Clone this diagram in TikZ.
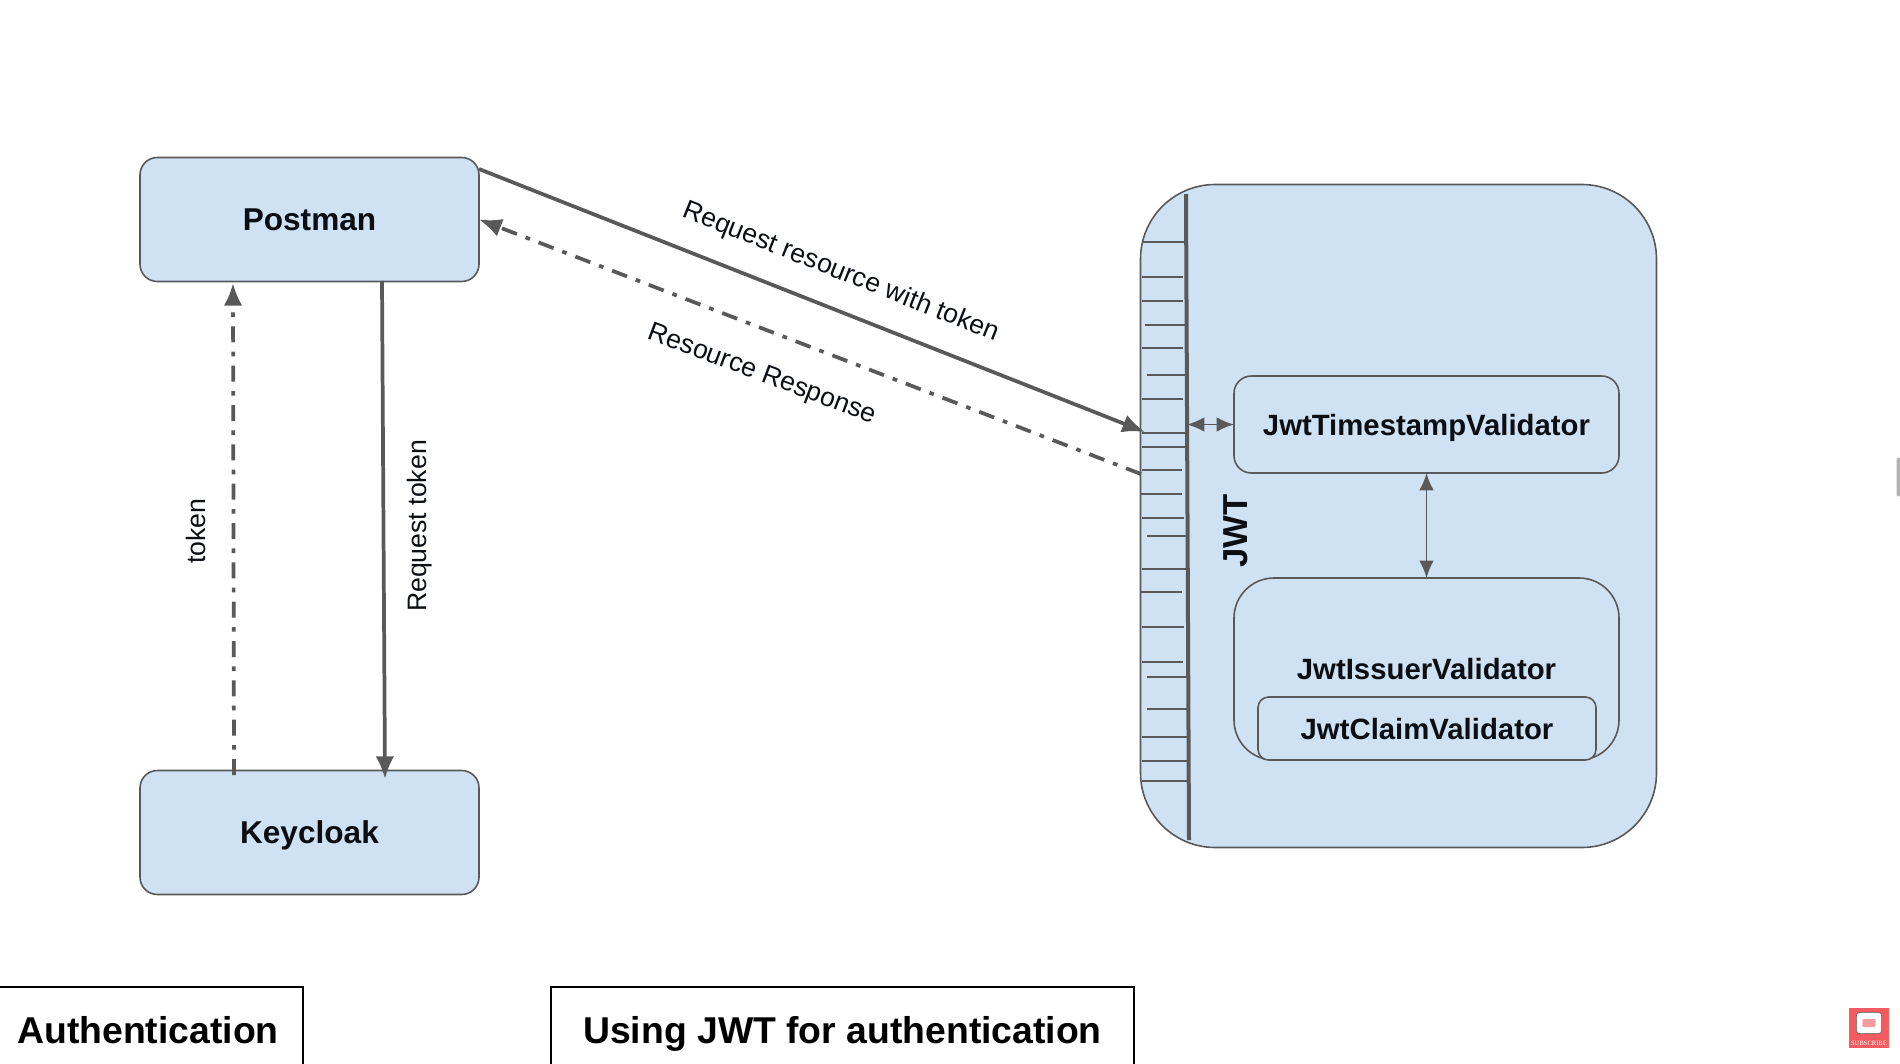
\documentclass[tikz,border=0pt]{standalone}
\usepackage{fontspec}
\setmainfont{Liberation Sans}
\newfontfamily\badgefont{Liberation Serif}
\usetikzlibrary{arrows.meta}
\definecolor{boxblue}{HTML}{CFE2F3}
\definecolor{linegray}{HTML}{595959}
\definecolor{inkdark}{HTML}{0B0F14}
\definecolor{badgered}{HTML}{F25B60}
\tikzset{
  bluebox/.style={draw=linegray, fill=boxblue, line width=1.2pt, inner sep=0pt, outer sep=0pt, text=inkdark, text depth=0pt},
  titlefont/.style={font=\fontsize{23.7}{28}\selectfont\bfseries, text height=17pt},
  classfont/.style={font=\fontsize{22}{26}\selectfont\bfseries, text height=15.8pt},
  arrowlabel/.style={font=\fontsize{20}{24}\selectfont, text=inkdark, inner sep=0pt},
  tabbox/.style={draw=black, line width=1.5pt, inner sep=0pt, outer sep=0pt, minimum height=64.5pt, font=\fontsize{28}{33}\selectfont\bfseries, text=black, text height=20pt, text depth=0pt},
  bigarrow/.style={draw=linegray, line width=2.8pt, -{Latex[length=17pt,width=14pt]}},
  dotarrow/.style={bigarrow, dash pattern=on 12pt off 7pt on 3.5pt off 7pt},
  smallarrow/.style={draw=linegray, line width=1.4pt, {Latex[length=13pt,width=11pt]}-{Latex[length=13pt,width=11pt]}},
}
\begin{document}
\begin{tikzpicture}[x=0.75pt, y=-0.75pt]
   \useasboundingbox (0,0) rectangle (1900,1064);
   % clients on the left
   \node[bluebox, titlefont, rounded corners=13pt, minimum width=254.25pt, minimum height=93pt] (postman) at (309.5,219.5) {Postman};
   \node[bluebox, titlefont, rounded corners=13pt, minimum width=254.25pt, minimum height=93pt] (keycloak) at (309.5,832.5) {Keycloak};
   % resource server
   \node[bluebox, rounded corners=56pt, minimum width=387pt, minimum height=497.25pt] (jwtbox) at (1398.5,516) {};
   \coordinate (filtertop) at (1186,194);
   \coordinate (filterbot) at (1189,840);
   \foreach \ya/\xa/\xb in {242/1142/1186, 277/1142/1183, 301/1142/1183, 325/1145/1186, 348/1142/1183,
     375/1147/1186, 399/1142/1183, 433/1142/1186, 447/1142/1186, 470/1142/1182, 494/1140/1182,
     518/1142/1184, 536/1147/1187, 569/1142/1187, 592/1140/1182, 627/1142/1184, 662/1142/1183,
     677/1147/1187, 709/1147/1187, 737/1142/1187, 761/1142/1188, 781/1142/1188}
     \draw[draw=linegray, line width=1pt] (\xa,\ya) -- (\xb,\ya);
   \draw[draw=linegray, line width=3pt] (filtertop) -- (filterbot);
   \node[font=\fontsize{26}{30}\selectfont\bfseries, text=inkdark, rotate=90, inner sep=0pt] (jwtlabel) at (1236,531) {JWT};
   \node[bluebox, classfont, rounded corners=13pt, minimum width=288.75pt, minimum height=72.75pt] (timestamp) at (1426.5,424.5) {JwtTimestampValidator};
   \node[bluebox, classfont, rounded corners=30pt, minimum width=288.75pt, minimum height=136.5pt] (issuer) at (1426.5,669) {JwtIssuerValidator};
   \node[bluebox, classfont, rounded corners=8pt, minimum width=253.5pt, minimum height=47.25pt] (claim) at (1427,728.5) {JwtClaimValidator};
   % connectors
   \coordinate (tokenin) at (382,281);
   \coordinate (tokenout) at (385,779);
   \coordinate (tokenback) at (234,775);
   \coordinate (tokenarrive) at (233,283);
   \coordinate (reqstart) at (479,169);
   \coordinate (reqend) at (1145,432);
   \coordinate (respstart) at (1141,474);
   \coordinate (filterport) at (1187,424.5);
   \draw[bigarrow] (tokenin) -- (tokenout);
   \draw[dotarrow] (tokenback) -- (tokenarrive);
   \draw[bigarrow] (reqstart) -- (reqend);
   \draw[dotarrow] (respstart) -- (postman.east);
   \draw[smallarrow] (filterport) -- (timestamp.west);
   \draw[smallarrow] (timestamp.south) -- (issuer.north);
   % labels
   \node[arrowlabel, rotate=-21.7] (reqlabel) at (841,272.5) {Request resource with token};
   \node[arrowlabel, rotate=-20.5] (resplabel) at (762,375) {Resource Response};
   \node[arrowlabel, rotate=90] (tokenreqlabel) at (420,526) {Request token};
   \node[arrowlabel, rotate=90] (tokenlabel) at (196,531) {token};
   % tabs at the bottom
   \node[tabbox, minimum width=232pt] (authtab) at (148,1030) {Authentication};
   \node[tabbox, minimum width=437.25pt] (usingtab) at (842.5,1030) {Using JWT for authentication};
   % subscribe badge
   \node[fill=badgered, minimum width=30pt, minimum height=29.5pt, inner sep=0pt] (badge) at (1869,1028) {};
   \node[fill=white, draw=linegray, line width=0.4pt, rounded corners=2.5pt, minimum width=19pt, minimum height=16pt, inner sep=0pt] (badgeicon) at (1869,1023) {};
   \node[fill=badgered!60, rounded corners=1pt, minimum width=10pt, minimum height=6pt, inner sep=0pt] (badgeplay) at (1869,1023) {};
   \node[font=\badgefont\fontsize{4.9}{5}\selectfont, text=white, inner sep=0pt] (badgetext) at (1869,1043) {SUBSCRIBE};
   % edge of a cursor panel
   \node[fill=gray!60, rounded corners=1pt, minimum width=5pt, minimum height=29pt, inner sep=0pt] (sidetab) at (1900,477) {};
\end{tikzpicture}
\end{document}
